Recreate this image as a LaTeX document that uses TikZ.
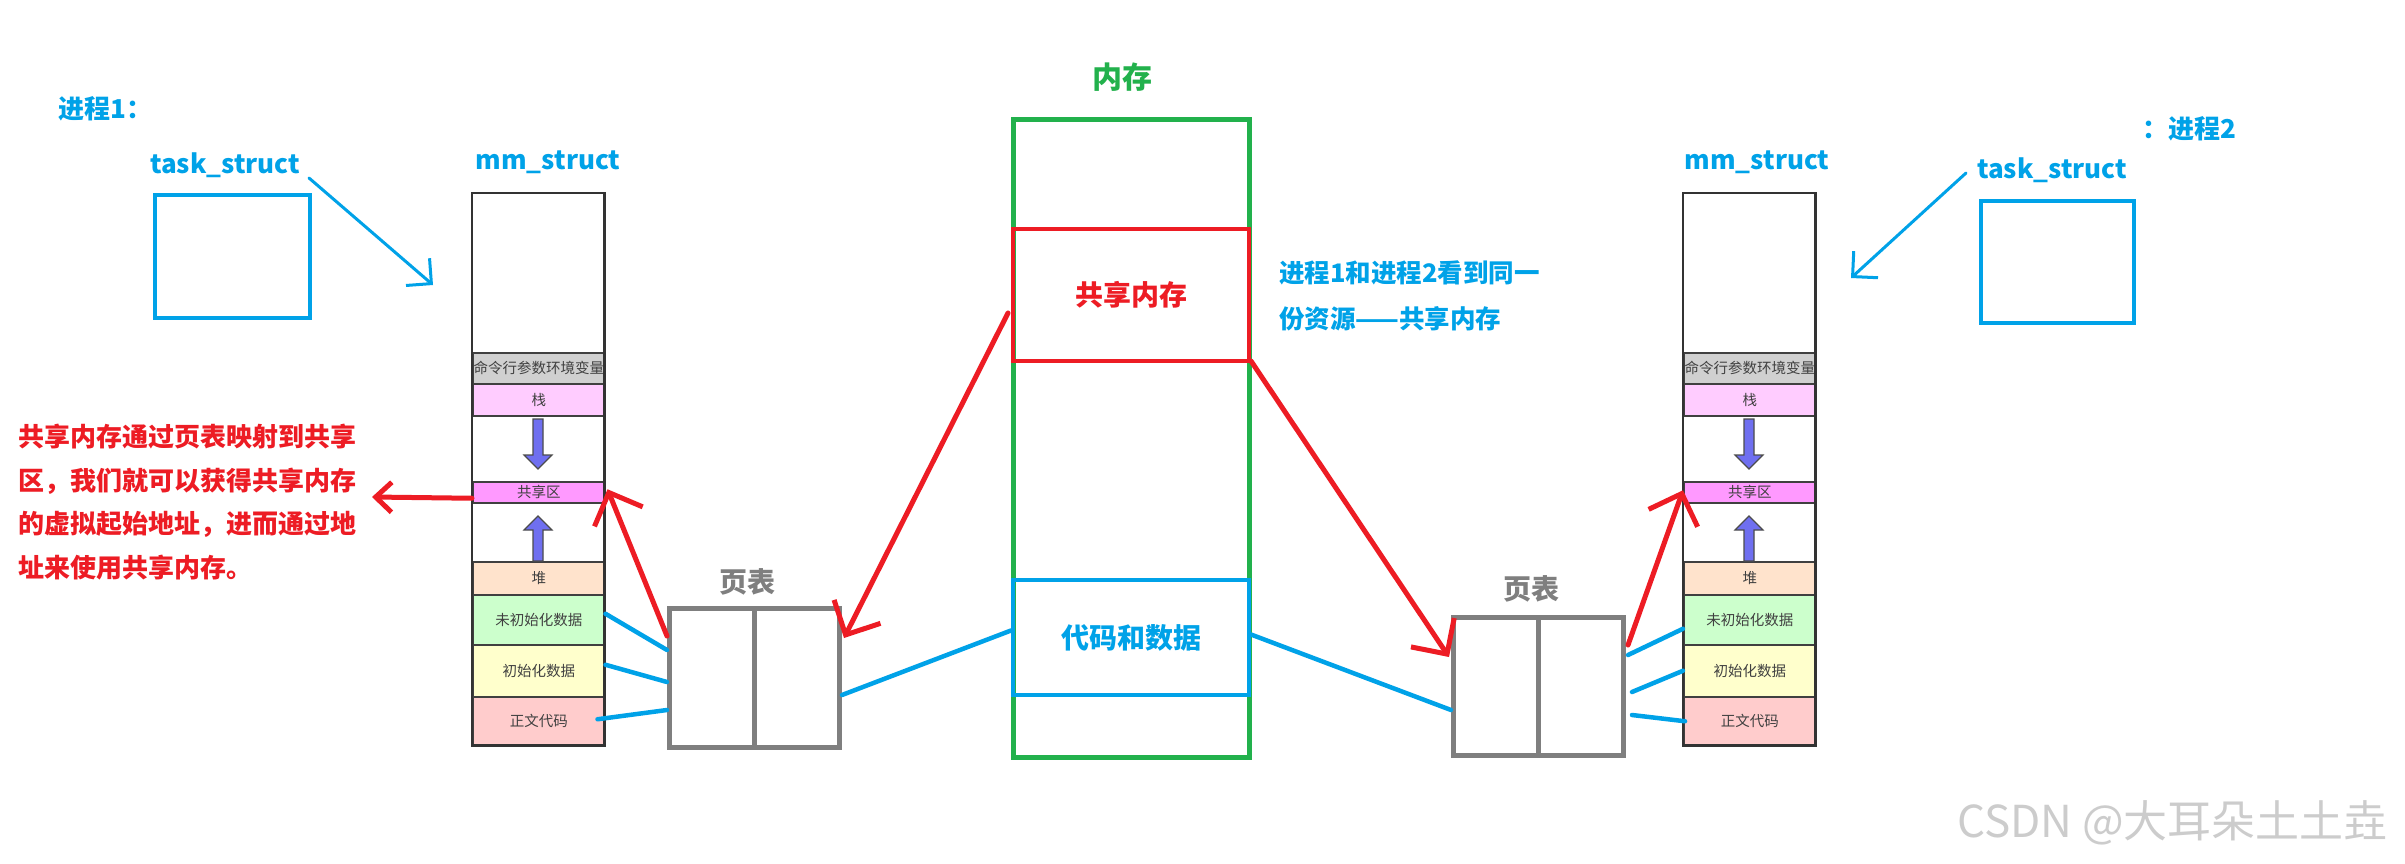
\documentclass[tikz,border=0pt]{standalone}
\usepackage{fontspec}
\setmainfont{Noto Sans CJK SC}
\usetikzlibrary{arrows.meta,calc}
\definecolor{pblue}{HTML}{00A2E8}
\definecolor{pred}{HTML}{ED1C24}
\definecolor{pgreen}{HTML}{22B14C}
\definecolor{pgray}{HTML}{7F7F7F}
\definecolor{bandgray}{HTML}{D0D0D0}
\definecolor{bandpink}{HTML}{FFCCFF}
\definecolor{bandmag}{HTML}{FF99FF}
\definecolor{bandpeach}{HTML}{FFE3CC}
\definecolor{bandgreen}{HTML}{CCFFCC}
\definecolor{bandyellow}{HTML}{FFFFCC}
\definecolor{bandred}{HTML}{FFCCCC}
\definecolor{bandtext}{HTML}{404040}
\definecolor{arrowfill}{HTML}{6F6FF0}
\tikzset{
  colbox/.style={draw=none,fill=white,minimum width=132pt,minimum height=552pt,anchor=north west,inner sep=0pt},
  band/.style={draw=black!75,line width=1.5pt,minimum width=132pt,anchor=north west,inner sep=0pt,
               font=\fontsize{14.5}{14.5}\selectfont,text=bandtext},
  colline/.style={draw=black!80,line width=2.5pt},
  blockarrow/.style={fill=arrowfill,draw=black!70,line width=1.2pt,line join=miter},
  bluebox/.style={draw=pblue,line width=4pt,anchor=north west,inner sep=0pt},
  lbl/.style={text=pblue,font=\bfseries\fontsize{26}{26}\selectfont,inner sep=0pt},
  ptbox/.style={draw=pgray,line width=5pt,minimum width=170pt,minimum height=139pt,anchor=north west,inner sep=0pt},
  ptlbl/.style={text=pgray,font=\bfseries\fontsize{28}{28}\selectfont,inner sep=0pt},
  redarrow/.style={draw=pred,line width=5pt,line cap=round,-{Straight Barb[length=26pt,width=52pt]}},
  bluearrow/.style={draw=pblue,line width=3pt,line cap=round,-{Straight Barb[length=18pt,width=36pt]}},
  blueline/.style={draw=pblue,line width=4.5pt,line cap=round},
}
\newcommand\mmcolumn[2]{%
  \node[colbox] (#1col) at (#2,193) {};
  \node[band,fill=bandgray,minimum height=31pt] (#1env) at (#2,352) {命令行参数环境变量};
  \node[band,fill=bandpink,minimum height=32pt] (#1stack) at (#2,383) {栈};
  \node[band,fill=bandmag,minimum height=21pt] (#1shm) at (#2,481) {共享区};
  \node[band,fill=bandpeach,minimum height=33pt] (#1heap) at (#2,561) {堆};
  \node[band,fill=bandgreen,minimum height=50pt] (#1bss) at (#2,594) {未初始化数据};
  \node[band,fill=bandyellow,minimum height=52pt] (#1data) at (#2,644) {初始化数据};
  \node[band,fill=bandred,minimum height=49pt] (#1text) at (#2,696) {正文代码};
  \draw[colline] (#1col.north west) rectangle (#1col.south east);
  \begin{scope}[shift={(#2,0)}]
    \filldraw[blockarrow] (61,419) -- (71,419) -- (71,455) -- (80,455) -- (66,469) -- (52,455) -- (61,455) -- cycle;
    \filldraw[blockarrow] (66,516) -- (80,530) -- (71,530) -- (71,561) -- (61,561) -- (61,530) -- (52,530) -- cycle;
  \end{scope}
}
\begin{document}
\begin{tikzpicture}[x=1pt,y=-1pt]
\fill[white] (0,0) rectangle (2405,864);
\useasboundingbox (0,0) rectangle (2405,864);

% ---------- process 1 ----------
\node[lbl,anchor=west] (p1lbl) at (58,109) {进程1：};
\node[bluebox,minimum width=155pt,minimum height=123pt] (ts1) at (153,193) {};
\node[lbl,anchor=west] (ts1lbl) at (150,165) {task\_struct};
\node[lbl] (mm1lbl) at (548,162) {mm\_struct};
\mmcolumn{a}{472}
\coordinate (ts1tip) at (433,285);
\draw[bluearrow] ($(ts1.north east)+(-3,-15)$) -- (ts1tip);

% ---------- memory ----------
\node[text=pgreen,font=\bfseries\fontsize{30}{30}\selectfont] (memlbl) at (1122,77) {内存};
\node[draw=pgreen,line width=5pt,minimum width=236pt,minimum height=638pt,anchor=north west,inner sep=0pt] (mem) at (1011,117) {};
\node[draw=pred,line width=4pt,minimum width=236pt,minimum height=132pt,anchor=north west,inner sep=0pt,
      text=pred,font=\bfseries\fontsize{28}{28}\selectfont] (shm) at (1011,227) {共享内存};
\node[draw=pblue,line width=4pt,minimum width=236pt,minimum height=115pt,anchor=north west,inner sep=0pt,
      text=pblue,font=\bfseries\fontsize{28}{28}\selectfont] (code) at (1011,578) {代码和数据};
\node[anchor=north west,align=left,inner sep=0pt,text=pblue,font=\bfseries\fontsize{25.5}{46}\selectfont] (desc) at (1279,261)
  {进程1和进程2看到同一\\份资源——共享内存};

% ---------- page tables ----------
\node[ptbox] (pt1) at (667,606) {};
\draw[pgray,line width=5pt] (pt1.north) -- (pt1.south);
\node[ptlbl] (pt1lbl) at (747,582) {页表};
\node[ptbox,minimum height=138pt] (pt2) at (1451,615) {};
\draw[pgray,line width=5pt] (pt2.north) -- (pt2.south);
\node[ptlbl] (pt2lbl) at (1531,589) {页表};

% ---------- process 2 ----------
\node[lbl,anchor=east] (p2lbl) at (2237,129) {：进程2};
\node[bluebox,minimum width=153pt,minimum height=122pt] (ts2) at (1979,199) {};
\node[lbl,anchor=west] (ts2lbl) at (1977,170) {task\_struct};
\node[lbl] (mm2lbl) at (1757,162) {mm\_struct};
\mmcolumn{b}{1683}
\coordinate (ts2tip) at (1851,278);
\coordinate (ts2start) at (1966,173);
\draw[bluearrow] (ts2start) -- (ts2tip);

% ---------- note ----------
\node[anchor=north west,align=left,inner sep=0pt,text=pred,font=\bfseries\fontsize{26}{43.5}\selectfont] (note) at (18,424)
  {共享内存通过页表映射到共享\\区，我们就可以获得共享内存\\的虚拟起始地址，进而通过地\\址来使用共享内存。};
\coordinate (notetip) at (372,497);
\draw[redarrow,-{Straight Barb[length=16pt,width=30pt]}] ($(ashm.west)+(0,6)$) -- (notetip);

% ---------- red mapping arrows ----------
\draw[redarrow] ($(shm.west)+(-3,18)$) -- ($(pt1.north east)+(2,32)$);
\draw[redarrow] ($(pt1.north west)+(0,30)$) -- ($(ashm.east)+(2,-3)$);
\draw[redarrow] ($(shm.south east)+(0,-2)$) -- ($(pt2.north west)+(-2,42)$);
\draw[redarrow] ($(pt2.north east)+(2,30)$) -- ($(bshm.west)+(0,-2)$);

% ---------- blue mapping lines ----------
\draw[blueline] ($(abss.east)+(0,-6)$) -- ($(pt1.north west)+(0,44)$);
\draw[blueline] ($(adata.east)+(0,-6)$) -- ($(pt1.north west)+(0,76)$);
\draw[blueline] ($(atext.east)+(-8,-2)$) -- ($(pt1.north west)+(0,104)$);
\draw[blueline] ($(pt1.north east)+(0,89)$) -- ($(code.west)+(0,-7)$);
\draw[blueline] ($(code.east)+(0,-3)$) -- ($(pt2.north west)+(0,95)$);
\draw[blueline] ($(pt2.north east)+(2,40)$) -- ($(bbss.west)+(0,9)$);
\draw[blueline] ($(pt2.north east)+(6,77)$) -- ($(bdata.west)+(0,0)$);
\draw[blueline] ($(pt2.north east)+(6,100)$) -- ($(btext.west)+(2,0)$);

% ---------- watermark ----------
\node[anchor=east,inner sep=0pt,text=black!20,font=\fontsize{44}{44}\selectfont] (wm) at (2388,823) {CSDN @大耳朵土土垚};
\end{tikzpicture}
\end{document}
